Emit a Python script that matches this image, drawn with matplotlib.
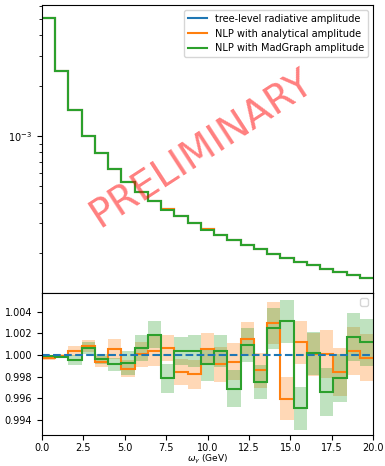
import numpy as np
import matplotlib
matplotlib.use("Agg")
import matplotlib.pyplot as plt

# ---------------- data ----------------
bin_lo = 0.0
bin_hi = 20.0
n_bins = 25

tree = [5.09e-3, 2.44e-3, 1.43e-3, 1.00e-3, 7.88e-4, 6.34e-4, 5.33e-4, 4.64e-4,
        4.08e-4, 3.64e-4, 3.32e-4, 3.03e-4, 2.76e-4, 2.55e-4, 2.38e-4, 2.22e-4,
        2.10e-4, 1.97e-4, 1.86e-4, 1.76e-4, 1.68e-4, 1.60e-4, 1.53e-4, 1.47e-4,
        1.41e-4]

ratio_analytical = [0.99969, 0.99991, 1.00037, 1.00084, 0.99938, 1.00053, 0.99873,
                    1.00005, 1.00037, 1.00062, 0.99845, 0.99820, 1.00053, 0.99913,
                    0.99938, 1.00146, 0.99857, 1.00295, 0.99597, 1.00118, 1.00006,
                    1.00006, 0.99845, 1.00037, 0.99975]
err_analytical = [0.0002, 0.0002, 0.00046, 0.00055, 0.0005, 0.00093, 0.0008, 0.00116,
                  0.0014, 0.0012, 0.0012, 0.0013, 0.0015, 0.0016, 0.0017, 0.0016,
                  0.0016, 0.0019, 0.0020, 0.0020, 0.0020, 0.0022, 0.0022, 0.0022,
                  0.0022]

ratio_madgraph = [0.99991, 0.99985, 0.99957, 1.00068, 0.99960, 0.99913, 0.99929,
                  1.00068, 1.00186, 0.99783, 1.00037, 1.00037, 0.99913, 1.00037,
                  0.99690, 1.00093, 0.99749, 1.00248, 1.00310, 0.99507, 1.00015,
                  0.99659, 0.99789, 1.00167, 1.00115]
err_madgraph = [0.0001, 0.0001, 0.00046, 0.00055, 0.00045, 0.0006, 0.0011, 0.0012,
                0.00124, 0.0013, 0.0013, 0.0015, 0.0015, 0.0015, 0.0017, 0.0016,
                0.0016, 0.0019, 0.0020, 0.0020, 0.0020, 0.0022, 0.0022, 0.0022,
                0.0022]

labels = ["tree-level radiative amplitude",
          "NLP with analytical amplitude",
          "NLP with MadGraph amplitude"]

# ---------------- derived arrays ----------------
edges = np.linspace(bin_lo, bin_hi, n_bins + 1)
tree_a = np.array(tree)
ra = np.array(ratio_analytical)
rm = np.array(ratio_madgraph)
ea = np.array(err_analytical)
em = np.array(err_madgraph)
ana = tree_a * ra
mad = tree_a * rm

plt.rcParams['font.size'] = 7
fig = plt.figure(figsize=(3.85, 4.66), dpi=100)
L, R = 42 / 385, 373 / 385
ax1 = fig.add_axes([L, 1 - 293 / 466, R - L, (293 - 5) / 466])
ax2 = fig.add_axes([L, 1 - 435 / 466, R - L, (435 - 293) / 466], sharex=ax1)

# upper panel
ax1.stairs(tree_a, edges, baseline=None, color='C0', lw=1.5, label=labels[0])
ax1.stairs(tree_a * (ra + ea), edges, baseline=tree_a * (ra - ea), fill=True,
           color='C1', alpha=0.3, lw=0)
ax1.stairs(ana, edges, baseline=None, color='C1', lw=1.5, label=labels[1])
ax1.stairs(tree_a * (rm + em), edges, baseline=tree_a * (rm - em), fill=True,
           color='C2', alpha=0.3, lw=0)
ax1.stairs(mad, edges, baseline=None, color='C2', lw=1.5, label=labels[2])
ax1.set_yscale('log')
ax1.set_ylim(1.15e-4, 6.09e-3)
ax1.set_xlim(bin_lo, bin_hi)
ax1.tick_params(labelbottom=False)
ax1.legend(loc='upper right', fontsize=7)
ax1.text(0.48, 0.5, "PRELIMINARY", transform=ax1.transAxes, ha='center',
         va='center', rotation=33, fontsize=28, color='red', alpha=0.5)

# lower panel
ax2.stairs(ra + ea, edges, baseline=ra - ea, fill=True, color='C1', alpha=0.3, lw=0)
ax2.stairs(rm + em, edges, baseline=rm - em, fill=True, color='C2', alpha=0.3, lw=0)
ax2.stairs(ra, edges, baseline=None, color='C1', lw=1.5)
ax2.stairs(rm, edges, baseline=None, color='C2', lw=1.5)
ax2.stairs(tree_a / tree_a, edges, baseline=None, color='C0', lw=1.5, ls='--')
ax2.set_ylim(0.99261, 1.00572)
ax2.set_yticks([0.994, 0.996, 0.998, 1.000, 1.002, 1.004])
ax2.set_xticks([0, 2.5, 5, 7.5, 10, 12.5, 15, 17.5, 20])
ax2.tick_params(axis='x', pad=2.5)
ax2.set_xlim(bin_lo, bin_hi)
ax2.set_xlabel(r"$\omega_\gamma$ (GeV)", fontsize=6.5)
ax2.xaxis.set_label_coords(0.5, -0.123)
ax2.legend(handles=[], loc='upper right')

fig.savefig("out.png", dpi=100)
